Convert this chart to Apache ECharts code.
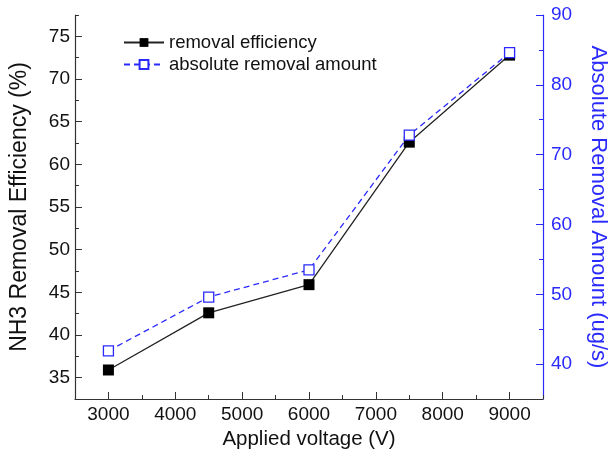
<!DOCTYPE html>
<html>
<head>
<meta charset="UTF-8">
<title>NH3 removal vs applied voltage</title>
<style>
    html, body { margin: 0; background: #fff; }
    #chart { width: 611px; height: 449px; }
</style>
</head>
<body>
<div id="chart"></div>
<script src="https://cdn.jsdelivr.net/npm/echarts@6/dist/echarts.min.js"></script>
<script>
    // data
    var voltage = [3000, 4500, 6000, 7500, 9000];
    var efficiency = [35.9, 42.6, 45.9, 62.6, 72.8];      // %
    var absAmount = [41.9, 49.6, 53.5, 72.8, 84.6];       // ug/s

    var xTicks = [3000, 4000, 5000, 6000, 7000, 8000, 9000];
    var xMinor = [2500, 3500, 4500, 5500, 6500, 7500, 8500, 9500];
    var leftTicks = [35, 40, 45, 50, 55, 60, 65, 70, 75];
    var leftMinor = [32.5, 37.5, 42.5, 47.5, 52.5, 57.5, 62.5, 67.5, 72.5, 77.5];
    var rightTicks = [40, 50, 60, 70, 80, 90];
    var rightMinor = [45, 55, 65, 75, 85];

    var font = 'Liberation Sans, Arial, sans-serif';
    var blue = '#2a2aff';
    var dark = '#333';

    function pairs(xs, ys) {
        return xs.map(function (x, i) { return [x, ys[i]]; });
    }

    function plain(v) { return String(v); }

    var chart = echarts.init(document.getElementById('chart'));

    chart.setOption({
        animation: false,
        grid: { left: 75, right: 68, top: 15, bottom: 50, containLabel: false, outerBoundsMode: 'none' },
        legend: {
            orient: 'vertical',
            left: 123,
            top: 33,
            padding: 0,
            itemWidth: 40,
            itemHeight: 11,
            itemGap: 3,
            textStyle: { fontFamily: font, fontSize: 18.5, color: '#111' },
            data: ['removal efficiency', 'absolute removal amount']
        },
        xAxis: [{
            type: 'value',
            min: 2500,
            max: 9500,
            name: 'Applied voltage (V)',
            nameLocation: 'middle',
            nameGap: 29,
            nameTextStyle: { fontFamily: font, fontSize: 20.5, color: '#111' },
            axisLine: { lineStyle: { color: dark, width: 1.2 } },
            axisTick: { inside: true, length: 7, customValues: xTicks, lineStyle: { color: dark } },
            axisLabel: { customValues: xTicks, formatter: plain, fontFamily: font, fontSize: 19, color: '#111', margin: 6 },
            splitLine: { show: false }
        }, {
            type: 'value',
            min: 2500,
            max: 9500,
            position: 'bottom',
            axisLine: { show: false },
            axisTick: { inside: true, length: 4, customValues: xMinor, lineStyle: { color: dark } },
            axisLabel: { show: false },
            splitLine: { show: false }
        }],
        yAxis: [{
            type: 'value',
            min: 32.5,
            max: 77.5,
            position: 'left',
            name: 'NH3 Removal Efficiency (%)',
            nameLocation: 'middle',
            nameGap: 44,
            nameTextStyle: { fontFamily: font, fontSize: 23, color: '#111' },
            axisLine: { show: true, lineStyle: { color: dark, width: 1.2 } },
            axisTick: { show: true, inside: true, length: 7, customValues: leftTicks, lineStyle: { color: dark } },
            axisLabel: { customValues: leftTicks, formatter: plain, fontFamily: font, fontSize: 19, color: '#111', margin: 5 },
            splitLine: { show: false }
        }, {
            type: 'value',
            min: 35,
            max: 90,
            position: 'right',
            name: 'Absolute Removal Amount (ug/s)',
            nameLocation: 'middle',
            nameRotate: -90,
            nameGap: 44,
            nameTextStyle: { fontFamily: font, fontSize: 22, color: blue },
            axisLine: { show: true, lineStyle: { color: blue, width: 1.2 } },
            axisTick: { show: true, inside: true, length: 7, customValues: rightTicks, lineStyle: { color: blue } },
            axisLabel: { customValues: rightTicks, formatter: plain, fontFamily: font, fontSize: 19, color: blue, margin: 8 },
            splitLine: { show: false }
        }, {
            type: 'value',
            min: 32.5,
            max: 77.5,
            position: 'left',
            axisLine: { show: false },
            axisTick: { show: true, inside: true, length: 4, customValues: leftMinor, lineStyle: { color: dark } },
            axisLabel: { show: false },
            splitLine: { show: false }
        }, {
            type: 'value',
            min: 35,
            max: 90,
            position: 'right',
            axisLine: { show: false },
            axisTick: { show: true, inside: true, length: 4, customValues: rightMinor, lineStyle: { color: blue } },
            axisLabel: { show: false },
            splitLine: { show: false }
        }],
        series: [{
            name: 'removal efficiency',
            type: 'line',
            xAxisIndex: 0,
            yAxisIndex: 0,
            data: pairs(voltage, efficiency),
            symbol: 'rect',
            symbolSize: 11,
            itemStyle: { color: '#000' },
            lineStyle: { color: '#222', width: 1.3 }
        }, {
            name: 'absolute removal amount',
            type: 'line',
            xAxisIndex: 0,
            yAxisIndex: 1,
            data: pairs(voltage, absAmount),
            symbol: 'rect',
            symbolSize: 10,
            itemStyle: { color: '#fff', borderColor: blue, borderWidth: 1.3 },
            lineStyle: { color: blue, width: 1.3, type: [6, 4] }
        }]
    });
</script>
</body>
</html>
